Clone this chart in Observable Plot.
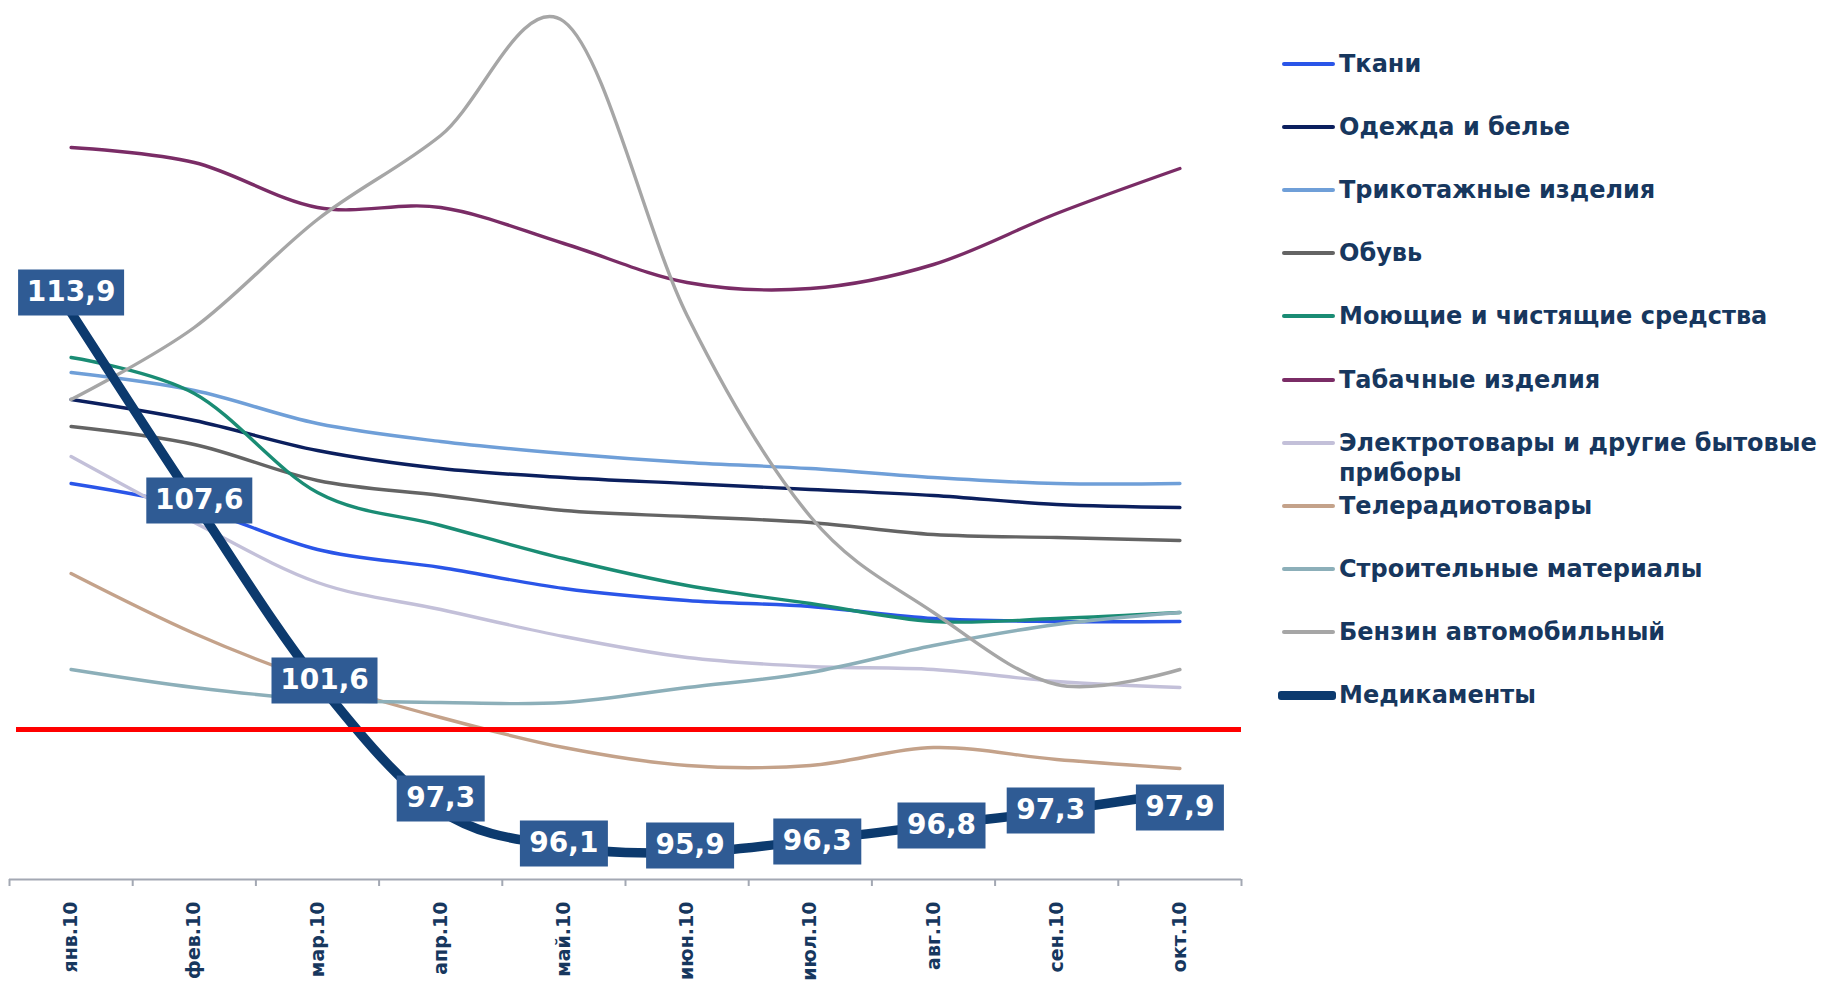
<!DOCTYPE html>
<html>
<head>
<meta charset="utf-8">
<script src="https://cdn.jsdelivr.net/npm/d3@7"></script>
<script src="https://cdn.jsdelivr.net/npm/@observablehq/plot@0.6"></script>
<style>
  body { margin: 0; background: #ffffff; font-family: "DejaVu Sans", sans-serif; }
  #wrap { position: relative; width: 1822px; height: 981px; overflow: hidden; }
  #chart { position: absolute; left: 0; top: 0; }
  .lg-line { position: absolute; border-radius: 3px; }
  .lg-text { position: absolute; font-family: "DejaVu Sans", sans-serif; font-weight: bold;
             font-size: 24px; line-height: 30px; color: #17375e; white-space: pre; }
</style>
</head>
<body>
<div id="wrap"><div id="chart"></div><div id="legend"></div></div>
<script>
// ---- data ----
const months = ["янв.10", "фев.10", "мар.10", "апр.10", "май.10", "июн.10", "июл.10", "авг.10", "сен.10", "окт.10"];

const seriesNames = [
  "Ткани",
  "Одежда и белье",
  "Трикотажные изделия",
  "Обувь",
  "Моющие и чистящие средства",
  "Табачные изделия",
  "Электротовары и другие бытовые\nприборы",
  "Телерадиотовары",
  "Строительные материалы",
  "Бензин автомобильный",
  "Медикаменты"
];

const tkani        = [108.2, 107.4, 106.0, 105.4, 104.7, 104.3, 104.1, 103.7, 103.6, 103.6];
const odezhda      = [111.0, 110.3, 109.3, 108.7, 108.4, 108.2, 108.0, 107.8, 107.5, 107.4];
const trikotazh    = [111.9, 111.3, 110.2, 109.6, 109.2, 108.9, 108.7, 108.4, 108.2, 108.2];
const obuv         = [110.1, 109.5, 108.3, 107.8, 107.3, 107.1, 106.9, 106.5, 106.4, 106.3];
const moyushchie   = [112.4, 111.2, 107.9, 106.8, 105.7, 104.8, 104.2, 103.6, 103.7, 103.9];
const tabak        = [119.4, 118.9, 117.4, 117.4, 116.2, 114.9, 114.7, 115.5, 117.2, 118.7];
const elektro      = [109.1, 106.9, 104.9, 104.0, 103.1, 102.4, 102.1, 102.0, 101.6, 101.4];
const teleradio    = [105.2, 103.2, 101.6, 100.4, 99.4, 98.8, 98.8, 99.4, 99.0, 98.7];
const stroit       = [102.0, 101.4, 101.0, 100.9, 100.9, 101.4, 101.9, 102.8, 103.5, 103.9];
const benzin       = [111.0, 113.4, 117.0, 119.8, 123.6, 113.8, 107.1, 103.9, 101.5, 102.0];
const medikamenty  = [113.9, 107.6, 101.6, 97.3, 96.1, 95.9, 96.3, 96.8, 97.3, 97.9];

const baseline = 100;

// ---- styles / layout ----
const seriesColors = ["#2a55e8", "#0b1f5e", "#6f9fd8", "#646464", "#1a8c74", "#7a2c66",
                      "#c3c0d9", "#c4a28a", "#8cafb9", "#a6a6a6", "#0c3a6e"];
// small pixel nudges of the data-label boxes (as placed in the original)
const labelNudgeX = [0, 5, 7, 0, 0, 3, 7, 8, -6, 0];
const labelNudgeY = [-20, -1, -1, -12, -3, -7, 1, 0, 0, 15];

const seriesValues = [tkani, odezhda, trikotazh, obuv, moyushchie, tabak, elektro, teleradio, stroit, benzin, medikamenty];

const rows = [];
seriesNames.forEach((name, s) => seriesValues[s].forEach((v, i) => rows.push({series: name, s, month: i, value: v})));
const thinRows = rows.filter(d => d.s < 10);
const medRows = rows.filter(d => d.s === 10);

const fmt = v => v.toFixed(1).replace(".", ",");
const box = (w, h) => ({draw(ctx) { ctx.rect(-w / 2, -h / 2, w, h); }});

const labelMarks = medRows.flatMap((d, i) => {
  const w = fmt(d.value).length >= 5 ? 106 : 88;
  const o = {x: "month", y: "value", dx: labelNudgeX[i], dy: labelNudgeY[i]};
  return [
    Plot.dot([d], {...o, symbol: box(w, 46), fill: "#2f5b94", stroke: null}),
    Plot.text([d], {...o, text: r => fmt(r.value), fill: "white", fontSize: 28, fontWeight: "bold"})
  ];
});

const chart = Plot.plot({
  width: 1822,
  height: 981,
  marginTop: 9,
  marginBottom: 102,
  marginLeft: 9,
  marginRight: 581,
  x: {domain: [-0.5, 9.5], label: null},
  y: {domain: [95, 124], axis: null, label: null},
  color: {domain: seriesNames, range: seriesColors},
  style: {fontFamily: "DejaVu Sans", background: "transparent", overflow: "visible"},
  marks: [
    Plot.ruleY([95], {stroke: "#a3a8b3", strokeWidth: 2}),
    Plot.axisX({ticks: d3.range(-0.5, 10, 1), tickSize: 7, tickFormat: () => "", stroke: "#a3a8b3", strokeWidth: 2}),
    Plot.axisX({ticks: d3.range(0, 10), tickSize: 0, tickPadding: 22, tickRotate: -90,
                tickFormat: i => months[i], fontSize: 19, fontWeight: "bold", color: "#17375e"}),
    Plot.line(thinRows, {x: "month", y: "value", z: "series", stroke: "series", strokeWidth: 3.4,
                         curve: "cardinal", strokeLinecap: "round"}),
    Plot.line(medRows, {x: "month", y: "value", stroke: "series", strokeWidth: 9.5,
                        curve: "cardinal", strokeLinecap: "round"}),
    ...labelMarks,
    Plot.ruleY([baseline], {stroke: "#ff0000", strokeWidth: 5, insetLeft: 7})
  ]
});
document.getElementById("chart").appendChild(chart);

// ---- legend ----
const legend = document.getElementById("legend");
seriesNames.forEach((name, i) => {
  const cy = 64 + i * 63.1;
  const thick = i === 10;
  const line = document.createElement("div");
  line.className = "lg-line";
  const lw = thick ? 9 : 4;
  line.style.left = (thick ? 1278 : 1282) + "px";
  line.style.width = (thick ? 58 : 53) + "px";
  line.style.top = (cy - lw / 2) + "px";
  line.style.height = lw + "px";
  line.style.background = seriesColors[i];
  legend.appendChild(line);
  const t = document.createElement("div");
  t.className = "lg-text";
  t.style.left = "1339px";
  t.style.top = (cy - 15) + "px";
  t.textContent = name;
  legend.appendChild(t);
});
</script>
</body>
</html>
